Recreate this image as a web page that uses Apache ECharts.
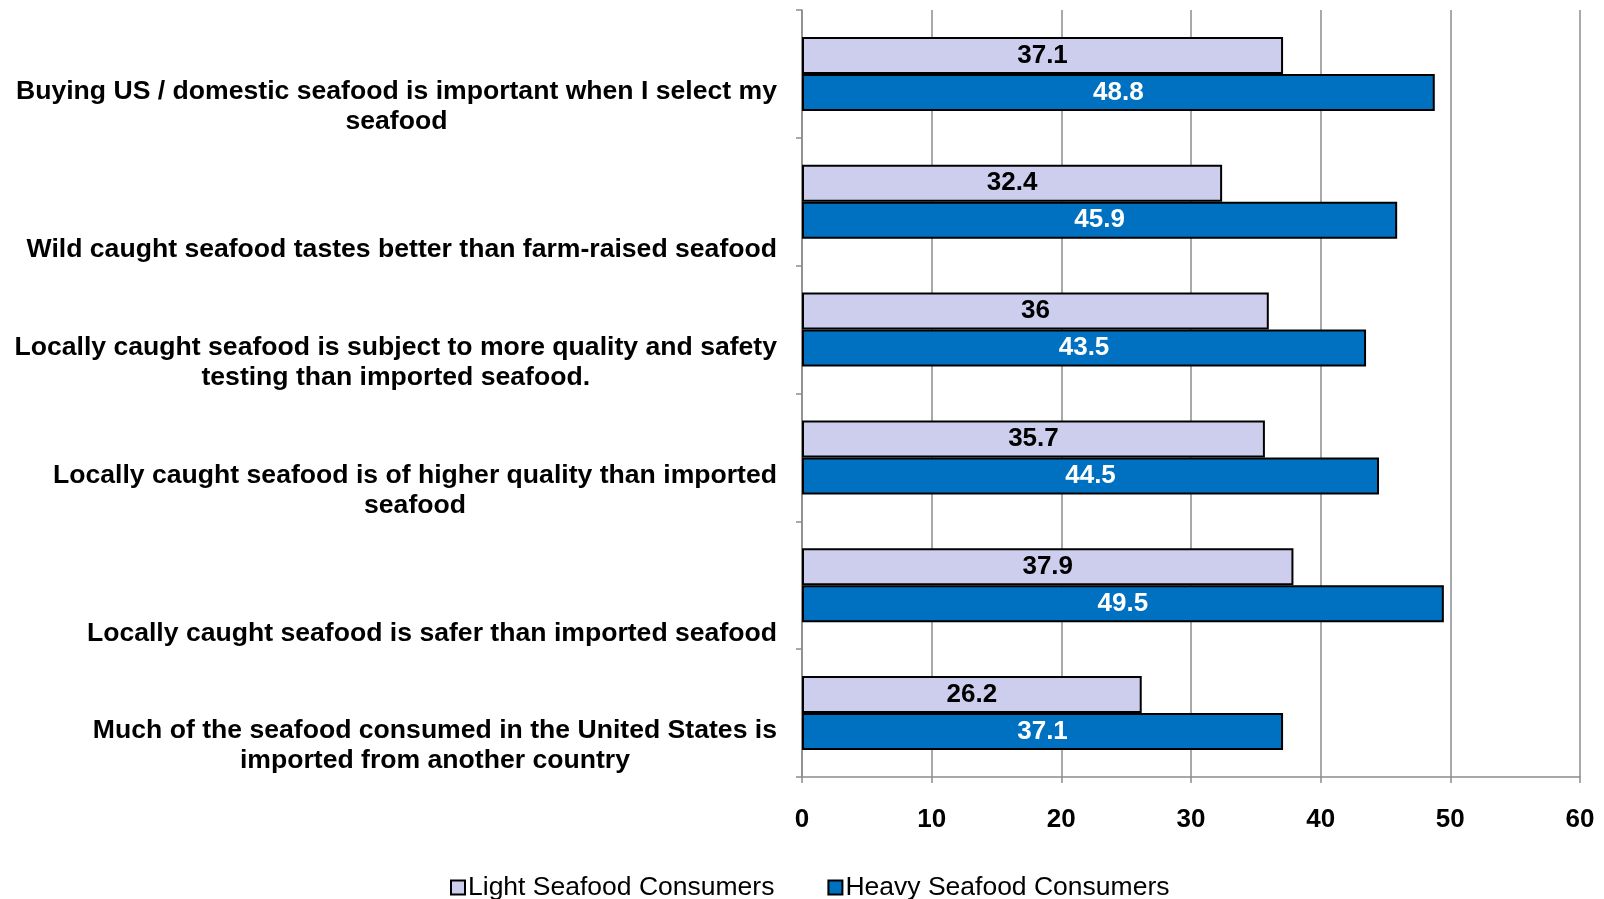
<!DOCTYPE html>
<html>
<head>
<meta charset="utf-8">
<title>Seafood attitudes: light vs heavy consumers</title>
<script src="https://cdn.jsdelivr.net/npm/echarts@6/dist/echarts.min.js"></script>
<style>
  html, body { margin: 0; padding: 0; background: #fff; }
  #chart { width: 1604px; height: 899px; }
</style>
</head>
<body>
<div id="chart"></div>
<script>
// Statements, top to bottom
const categories = [
  'Buying US / domestic seafood is important when I select my\nseafood',
  'Wild caught seafood tastes better than farm-raised seafood',
  'Locally caught seafood is subject to more quality and safety\ntesting than imported seafood.',
  'Locally caught seafood is of higher quality than imported\nseafood',
  'Locally caught seafood is safer than imported seafood',
  'Much of the seafood consumed in the United States is\nimported from another country'
];

const seriesNames = ['Light Seafood Consumers', 'Heavy Seafood Consumers'];

// Percent agreeing, per statement
const lightValues = [37.1, 32.4, 36, 35.7, 37.9, 26.2];
const heavyValues = [48.8, 45.9, 43.5, 44.5, 49.5, 37.1];

// Value axis range
const axisMin = 0;
const axisMax = 60;
const axisStep = 10;

const FONT = 'Arial, "Liberation Sans", sans-serif';
const GRID_GRAY = '#8c8c8c';
const CAT_SIZE = 26.6;

const chart = echarts.init(document.getElementById('chart'), null, { renderer: 'canvas' });

chart.setOption({
  animation: false,
  backgroundColor: '#ffffff',
  textStyle: { fontFamily: FONT },
  grid: { left: 802, right: 24, top: 10, bottom: 122, containLabel: false },
  legend: {
    data: seriesNames,
    top: 869,
    left: 445,
    icon: 'rect',
    itemWidth: 14,
    itemHeight: 14,
    itemGap: 53,
    textStyle: { fontFamily: FONT, fontSize: 26.5, color: '#000', padding: [0, 0, 0, -2] }
  },
  xAxis: {
    type: 'value',
    min: axisMin,
    max: axisMax,
    interval: axisStep,
    axisLine: { show: true, lineStyle: { color: GRID_GRAY, width: 1.5 } },
    axisTick: { show: true, length: 6, lineStyle: { color: GRID_GRAY, width: 1.5 } },
    splitLine: { show: true, lineStyle: { color: GRID_GRAY, width: 1.5 } },
    axisLabel: {
      margin: 30,
      fontFamily: FONT,
      fontSize: 26,
      fontWeight: 'bold',
      color: '#000'
    }
  },
  yAxis: {
    type: 'category',
    inverse: true,
    data: categories,
    axisLine: { show: true, lineStyle: { color: GRID_GRAY, width: 1.5 } },
    axisTick: { show: true, length: 6, lineStyle: { color: GRID_GRAY, width: 1.5 } },
    splitLine: { show: false },
    axisLabel: {
      margin: 25,
      align: 'right',
      verticalAlign: 'top',
      padding: [3, 0, 0, 0],
      fontFamily: FONT,
      fontSize: CAT_SIZE,
      fontWeight: 'bold',
      lineHeight: 30,
      color: '#000',
      // Wrapped statements sit against the lower edge of their band;
      // each line is centred inside the right-aligned block.
      formatter: function (value) {
        const lines = value.split('\n');
        const body = lines.map(l => '{c|' + l + '}').join('\n');
        return lines.length < 2 ? '\n' + body : body;
      },
      rich: {
        c: {
          align: 'center',
          fontFamily: FONT,
          fontSize: CAT_SIZE,
          fontWeight: 'bold',
          lineHeight: 30,
          color: '#000'
        }
      }
    }
  },
  series: [
    {
      name: seriesNames[0],
      type: 'bar',
      data: lightValues,
      barWidth: 37,
      barGap: '0%',
      itemStyle: { color: '#cdcdee', borderColor: '#000', borderWidth: 2 },
      label: {
        show: true,
        position: 'inside',
        fontFamily: FONT,
        fontSize: 26,
        fontWeight: 'bold',
        color: '#000'
      }
    },
    {
      name: seriesNames[1],
      type: 'bar',
      data: heavyValues,
      barWidth: 37,
      barGap: '0%',
      itemStyle: { color: '#0070c0', borderColor: '#000', borderWidth: 2 },
      label: {
        show: true,
        position: 'inside',
        fontFamily: FONT,
        fontSize: 26,
        fontWeight: 'bold',
        color: '#fff'
      }
    }
  ]
});
</script>
</body>
</html>
